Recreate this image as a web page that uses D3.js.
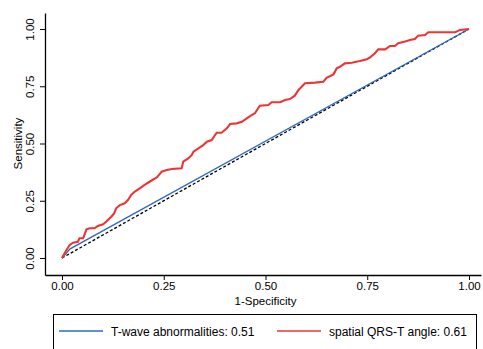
<!DOCTYPE html>
<html><head><meta charset="utf-8">
<script src="https://cdn.jsdelivr.net/npm/d3@7"></script>
<style>body{margin:0;background:#fff}svg{display:block;font-family:"Liberation Sans",Arial,sans-serif}</style>
</head><body><svg id="c" width="483" height="349"></svg>
<script>
const ticks = [0, 0.25, 0.5, 0.75, 1];
const tickLabels = ["0.00", "0.25", "0.50", "0.75", "1.00"];
const seriesNames = ["T-wave abnormalities: 0.51", "spatial QRS-T angle: 0.61"];
const twaveFpr = [0, 0.02, 1];
const twaveTpr = [0, 0.04, 1];
const qrstFpr = [0.000,0.011,0.019,0.027,0.039,0.043,0.052,0.060,0.068,0.080,0.088,0.101,0.109,0.121,0.128,0.133,0.142,0.154,0.162,0.170,0.179,0.191,0.203,0.215,0.233,0.245,0.257,0.270,0.294,0.298,0.310,0.319,0.323,0.335,0.347,0.356,0.368,0.376,0.380,0.392,0.405,0.413,0.429,0.442,0.454,0.462,0.474,0.482,0.486,0.507,0.515,0.536,0.548,0.560,0.572,0.581,0.589,0.597,0.622,0.642,0.650,0.667,0.675,0.683,0.695,0.712,0.732,0.749,0.757,0.769,0.777,0.794,0.806,0.818,0.826,0.843,0.855,0.867,0.875,0.892,0.900,0.966,0.978,0.994,1.000];
const qrstTpr = [0.000,0.035,0.057,0.067,0.071,0.086,0.086,0.125,0.130,0.130,0.140,0.147,0.159,0.180,0.195,0.217,0.231,0.239,0.253,0.275,0.290,0.304,0.319,0.333,0.352,0.377,0.384,0.389,0.392,0.421,0.435,0.450,0.464,0.479,0.493,0.508,0.515,0.537,0.547,0.547,0.566,0.585,0.588,0.595,0.610,0.620,0.632,0.654,0.665,0.668,0.680,0.680,0.690,0.694,0.709,0.734,0.748,0.763,0.766,0.770,0.787,0.802,0.828,0.835,0.850,0.853,0.860,0.868,0.876,0.894,0.911,0.911,0.926,0.926,0.938,0.945,0.952,0.956,0.971,0.974,0.986,0.986,0.996,0.999,1.000];
const refLine = [0, 1];

const svg = d3.select("#c");
const x = d3.scaleLinear().domain([-0.0418, 1.0295]).range([45, 481]);
const y = d3.scaleLinear().domain([-0.0742, 1.0699]).range([275, 13]);

const xAxis = svg.append("g").attr("transform", "translate(0,275)")
  .call(d3.axisBottom(x).tickValues(ticks).tickFormat((d,i)=>tickLabels[i]).tickSize(5).tickSizeOuter(0));
xAxis.selectAll("text").attr("font-size", 11.5).attr("fill", "#000").attr("font-family", "Liberation Sans, Arial, sans-serif").attr("dy", "0.71em").attr("y", 7);
const yAxis = svg.append("g").attr("transform", "translate(45,0)")
  .call(d3.axisLeft(y).tickValues(ticks).tickFormat((d,i)=>tickLabels[i]).tickSize(5).tickSizeOuter(0));
yAxis.selectAll("text").attr("font-size", 11.5).attr("fill", "#000").attr("font-family", "Liberation Sans, Arial, sans-serif")
  .attr("x", null).attr("dy", null).attr("text-anchor", "middle")
  .attr("transform", "translate(-11,0) rotate(-90)").attr("y", 0);
svg.selectAll(".domain").attr("stroke", "#000").attr("stroke-width", 1.3);
svg.selectAll(".tick line").attr("stroke", "#000").attr("stroke-width", 1);

svg.append("text").attr("x", x(0.5)).attr("y", 305).attr("text-anchor", "middle").attr("font-size", 11.5).text("1-Specificity");
svg.append("text").attr("transform", `translate(22,${y(0.5)}) rotate(-90)`).attr("text-anchor", "middle").attr("font-size", 11.5).text("Sensitivity");

const line = d3.line().x(d=>x(d[0])).y(d=>y(d[1]));
svg.append("path").datum(d3.zip(refLine, refLine)).attr("d", line).attr("fill", "none")
  .attr("stroke", "#000").attr("stroke-width", 1.3).attr("stroke-dasharray", "3,2");
svg.append("path").datum(d3.zip(twaveFpr, twaveTpr)).attr("d", line).attr("fill", "none")
  .attr("stroke", "#2f6bbd").attr("stroke-width", 1.3);
svg.append("path").datum(d3.zip(qrstFpr, qrstTpr)).attr("d", line).attr("fill", "none")
  .attr("stroke", "#ee3535").attr("stroke-width", 2.1).attr("stroke-linejoin", "miter");

const lg = svg.append("g");
lg.append("rect").attr("x", 53.5).attr("y", 314.5).attr("width", 423).attr("height", 40).attr("fill", "none").attr("stroke", "#000").attr("stroke-width", 1);
const colors = ["#2f6bbd", "#ee3535"];
const lx = [59, 277];
seriesNames.forEach((n, i) => {
  lg.append("line").attr("x1", lx[i]).attr("x2", lx[i] + 44).attr("y1", 331).attr("y2", 331)
    .attr("stroke", colors[i]).attr("stroke-width", i ? 1.5 : 1.3);
  lg.append("text").attr("x", lx[i] + 52).attr("y", 335.5).attr("font-size", 12).text(n);
});
</script></body></html>
